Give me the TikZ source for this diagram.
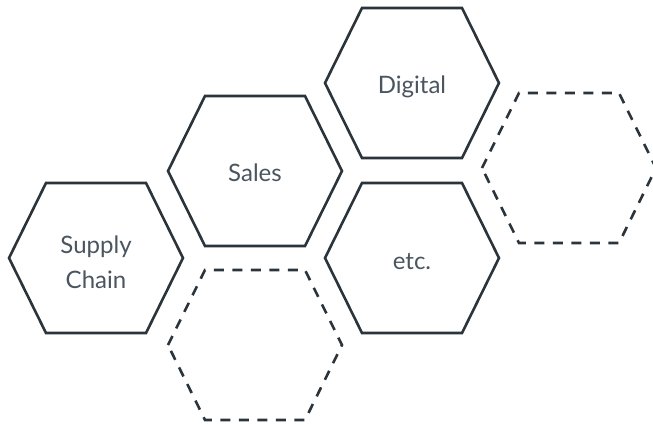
\documentclass[tikz,border=0pt]{standalone}
\usepackage{fontspec}
\setmainfont{Lato}

\definecolor{edgegray}{HTML}{2B343B}
\definecolor{textgray}{HTML}{4A5560}

% hexagon round a named coordinate
\newcommand{\hexcell}[2]{%
  \draw[#1] (#2) ++(-87,0) -- ++(37,-75) -- ++(100,0) -- ++(37,75)
    -- ++(-37,75) -- ++(-100,0) -- cycle;}

\begin{document}
\begin{tikzpicture}[x=1pt, y=-1pt]
        % styles
        \tikzstyle{hexline}=[draw=edgegray, line width=2.6pt, line join=miter]
        \tikzstyle{hexdash}=[hexline, dash pattern=on 10pt off 8.5pt]
        \tikzstyle{cellname}=[text=textgray, align=center, font=\fontsize{24}{35}\selectfont]

        \clip (0,0) rectangle (653,424);

        % cell centres
        \coordinate (supplycell) at (96,258);
        \coordinate (salescell) at (255,171);
        \coordinate (digitalcell) at (412,83);
        \coordinate (etccell) at (412,258);
        \coordinate (emptylow) at (255,345);
        \coordinate (emptyright) at (569,168);

        % names
        \node[cellname] (supply) at (96,262) {Supply\\Chain};
        \node[cellname] (sales) at (255,173) {Sales};
        \node[cellname] (digital) at (412,87) {Digital};
        \node[cellname] (etc) at (412,262) {etc.};

        % outlines
        \hexcell{hexline}{supplycell}
        \hexcell{hexline}{salescell}
        \hexcell{hexline}{digitalcell}
        \hexcell{hexline}{etccell}
        \hexcell{hexdash}{emptylow}
        \hexcell{hexdash}{emptyright}
    \end{tikzpicture}
\end{document}
